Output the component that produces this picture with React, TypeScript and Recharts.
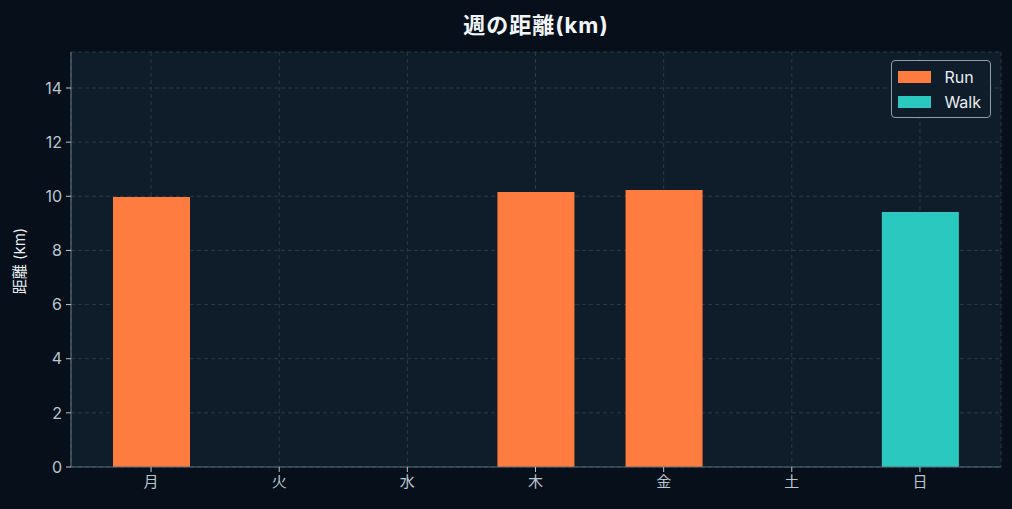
import React from 'react';
import { BarChart, Bar, XAxis, YAxis, CartesianGrid, Legend } from 'recharts';

const days = ['月', '火', '水', '木', '金', '土', '日'];
const runKm = [9.97, 0, 0, 10.16, 10.23, 0, 0];
const walkKm = [0, 0, 0, 0, 0, 0, 9.42];
const yTicks = [0, 2, 4, 6, 8, 10, 12, 14];

const data = days.map((day, i) => ({ day, run: runKm[i], walk: walkKm[i] }));

const FONT = 'Inter, "Noto Sans CJK JP", sans-serif';
const SPINE = '#5d6c79';
const TICK = '#b9c5d1';
const GRID = '#2a3946';

const LegendBox = (props: any) => {
    const items = props.payload || [];
    return (
        <div
            style={{
                border: '1.5px solid #8d9daa',
                borderRadius: 4,
                background: '#0f1d2a',
                padding: '3px 9px 3px 6px',
                fontFamily: FONT,
                fontSize: 16,
                color: '#e8eef3',
            }}
        >
            {items.map((it: any) => (
                <div key={it.value} style={{ display: 'flex', alignItems: 'center', height: 25 }}>
                    <span style={{ width: 33, height: 12, background: it.color, marginRight: 13, display: 'inline-block' }} />
                    <span>{it.value}</span>
                </div>
            ))}
        </div>
    );
};

export default function App() {
    return (
        <div style={{ position: 'relative', width: 1012, height: 509, background: '#07101a', overflow: 'hidden' }}>
            <style>{'body{margin:0}'}</style>
            <div
                style={{
                    position: 'absolute',
                    top: 7,
                    left: 71,
                    width: 930,
                    textAlign: 'center',
                    fontFamily: FONT,
                    fontWeight: 700,
                    fontSize: 22,
                    letterSpacing: 1,
                    color: '#f2f5f8',
                }}
            >
                週の距離(km)
            </div>
            <div
                style={{
                    position: 'absolute',
                    left: 18,
                    top: 261,
                    transform: 'translate(-50%, -50%) rotate(-90deg)',
                    fontFamily: FONT,
                    fontSize: 15,
                    color: '#e8eef3',
                    whiteSpace: 'nowrap',
                }}
            >
                距離 (km)
            </div>
            <BarChart
                width={1012}
                height={509}
                data={data}
                margin={{ top: 52, right: 11, bottom: 0, left: 0 }}
                barCategoryGap={0}
            >
                <CartesianGrid
                    stroke={GRID}
                    strokeDasharray="4 3"
                    fill="#0f1d2a"
                    fillOpacity={1}
                />
                <XAxis
                    dataKey="day"
                    height={42}
                    padding={{ left: 16, right: 17 }}
                    axisLine={{ stroke: SPINE, strokeWidth: 1.2 }}
                    tickLine={{ stroke: TICK }}
                    tickSize={5}
                    tick={{ fill: TICK, fontSize: 15, fontFamily: FONT }}
                    tickMargin={4}
                />
                <XAxis
                    xAxisId="top"
                    orientation="top"
                    dataKey="day"
                    height={0}
                    tick={false}
                    tickLine={false}
                    axisLine={{ stroke: SPINE, strokeWidth: 1.2 }}
                />
                <YAxis
                    width={71}
                    domain={[0, 15.33]}
                    ticks={yTicks}
                    allowDataOverflow
                    axisLine={{ stroke: SPINE, strokeWidth: 1.2 }}
                    tickLine={{ stroke: TICK }}
                    tickSize={5}
                    tick={{ fill: TICK, fontSize: 16, fontFamily: FONT }}
                    tickMargin={4}
                />
                <YAxis
                    yAxisId="right"
                    orientation="right"
                    width={0}
                    domain={[0, 15.33]}
                    tick={false}
                    tickLine={false}
                    axisLine={{ stroke: SPINE, strokeWidth: 1.2 }}
                />
                <Legend
                    layout="horizontal"
                    align="center"
                    verticalAlign="middle"
                    content={LegendBox}
                    wrapperStyle={{ top: 60, right: 21, left: 'auto', width: 'auto' }}
                />
                <Bar dataKey="run" name="Run" stackId="d" fill="#ff7c41" barSize={77} isAnimationActive={false} />
                <Bar dataKey="walk" name="Walk" stackId="d" fill="#2ac8be" barSize={77} isAnimationActive={false} />
            </BarChart>
        </div>
    );
}
